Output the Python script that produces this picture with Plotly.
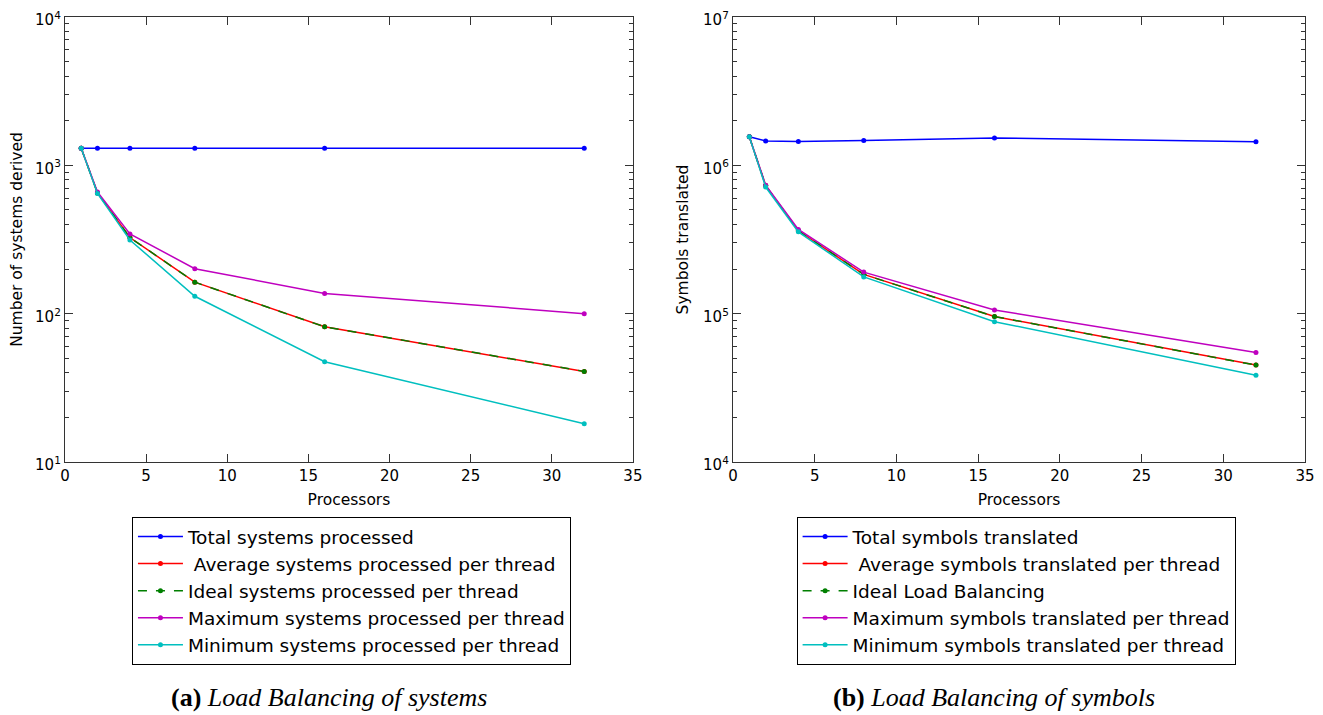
import plotly.graph_objects as go

processors = [1, 2, 4, 8, 16, 32]

# (a) systems
sys_total = [1305, 1305, 1305, 1305, 1305, 1305]
sys_avg = [1305, 652, 326, 163, 81.6, 40.8]
sys_ideal = [1305, 652, 326, 163, 81.6, 40.8]
sys_max = [1305, 662, 345, 201, 137, 100]
sys_min = [1305, 646, 314, 131, 47.4, 18.1]

# (b) symbols
sym_total = [1.56e6, 1.46e6, 1.45e6, 1.47e6, 1.53e6, 1.44e6]
sym_avg = [1.56e6, 7.3e5, 3.62e5, 1.84e5, 9.56e4, 4.5e4]
sym_ideal = [1.56e6, 7.3e5, 3.62e5, 1.84e5, 9.56e4, 4.5e4]
sym_max = [1.56e6, 7.35e5, 3.70e5, 1.906e5, 1.06e5, 5.47e4]
sym_min = [1.56e6, 7.14e5, 3.56e5, 1.77e5, 8.83e4, 3.85e4]

names_a = ["Total systems processed", "\u00a0Average systems processed per thread",
           "Ideal systems processed per thread", "Maximum systems processed per thread",
           "Minimum systems processed per thread"]
names_b = ["Total symbols translated", "\u00a0Average symbols translated per thread",
           "Ideal Load Balancing", "Maximum symbols translated per thread",
           "Minimum symbols translated per thread"]

colors = ["#0000ff", "#ff0000", "#007f00", "#bf00bf", "#00bfbf"]
dashes = ["solid", "solid", "dash", "solid", "solid"]

fig = go.Figure()

series_a = [sys_total, sys_avg, sys_ideal, sys_max, sys_min]
series_b = [sym_total, sym_avg, sym_ideal, sym_max, sym_min]

for i, (nm, ys) in enumerate(zip(names_a, series_a)):
    fig.add_trace(go.Scatter(
        x=processors, y=ys, name=nm, mode="lines+markers",
        line=dict(color=colors[i], width=1.5, dash=dashes[i]),
        marker=dict(color=colors[i], size=5),
        xaxis="x", yaxis="y", legend="legend", legendgroup="a%d" % i))

for i, (nm, ys) in enumerate(zip(names_b, series_b)):
    fig.add_trace(go.Scatter(
        x=processors, y=ys, name=nm, mode="lines+markers",
        line=dict(color=colors[i], width=1.5, dash=dashes[i]),
        marker=dict(color=colors[i], size=5),
        xaxis="x2", yaxis="y2", legend="legend2", legendgroup="b%d" % i))

tickfont = dict(family="DejaVu Sans", size=15, color="black")
titlefont = dict(family="DejaVu Sans", size=15.5, color="black")
axcol = "#333333"


def xaxis(domain, anchor):
    return dict(domain=domain, anchor=anchor, range=[0, 35], dtick=5, tick0=0,
                ticks="inside", ticklen=8, tickwidth=1, tickcolor=axcol,
                showline=True, linecolor=axcol, linewidth=1.3, mirror="allticks",
                showgrid=False, zeroline=False, tickfont=tickfont, automargin=True,
                ticklabeloverflow="allow",
                title=dict(text="Processors", font=titlefont, standoff=9))


def yaxis(lo, hi, anchor, title):
    vals = [10 ** k for k in range(lo, hi + 1)]
    txt = ["10<sup>%d</sup>" % k for k in range(lo, hi + 1)]
    minor_vals = [m * 10 ** k for k in range(lo, hi) for m in range(2, 10)]
    return dict(type="log", anchor=anchor, range=[lo, hi], tickmode="array",
                tickvals=vals, ticktext=txt, ticklabelshift=3,
                ticks="inside", ticklen=8, tickwidth=1, tickcolor=axcol,
                minor=dict(tickmode="array", tickvals=minor_vals, ticks="inside",
                           ticklen=4, tickcolor=axcol, showgrid=False),
                showline=True, linecolor=axcol, linewidth=1.3, mirror="allticks",
                showgrid=False, zeroline=False, tickfont=tickfont, automargin=True,
                ticklabeloverflow="allow",
                title=dict(text=title, font=titlefont, standoff=10))


legfont = dict(family="DejaVu Sans", size=18.5, color="black")

# page body has an 8px default margin; compensate so the plot lands where the reference has it
fig.update_layout(
    width=1315, height=707,
    margin=dict(l=57, r=18, t=9, b=253, autoexpand=False),
    paper_bgcolor="white", plot_bgcolor="white",
    xaxis=xaxis([0, 0.458], "y"),
    yaxis=yaxis(1, 4, "x", "Number of systems derived"),
    xaxis2=xaxis([0.5387, 1.0], "y2"),
    yaxis2=yaxis(4, 7, "x2", "Symbols translated"),
    legend=dict(x=0.0540, y=-0.1236, xanchor="left", yanchor="top",
                bordercolor="black", borderwidth=1, bgcolor="white",
                font=legfont, tracegroupgap=0, traceorder="grouped", itemwidth=45),
    legend2=dict(x=0.590, y=-0.1236, xanchor="left", yanchor="top",
                 bordercolor="black", borderwidth=1, bgcolor="white",
                 font=legfont, tracegroupgap=0, traceorder="grouped", itemwidth=45),
    showlegend=True,
    annotations=[
        dict(text="<b>(a)</b> <i>Load Balancing of systems</i>", xref="paper", yref="paper",
             x=(329 - 65) / 1240, y=(462 - 697) / 445, xanchor="center", yanchor="middle",
             showarrow=False, font=dict(family="Liberation Serif", size=26, color="black")),
        dict(text="<b>(b)</b> <i>Load Balancing of symbols</i>", xref="paper", yref="paper",
             x=(994 - 65) / 1240, y=(462 - 697) / 445, xanchor="center", yanchor="middle",
             showarrow=False, font=dict(family="Liberation Serif", size=26, color="black")),
    ],
)

fig.write_html("out.html")
